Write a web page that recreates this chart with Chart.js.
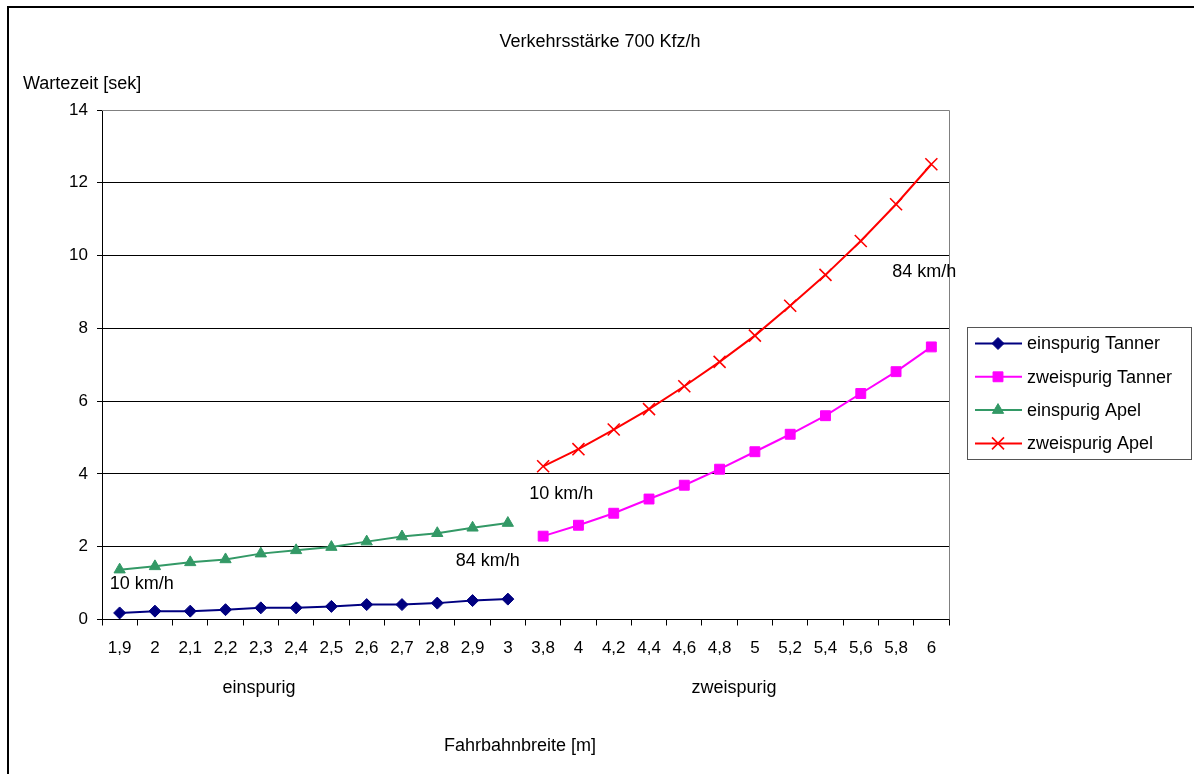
<!DOCTYPE html>
<html>
<head>
<meta charset="utf-8">
<script src="https://cdn.jsdelivr.net/npm/chart.js@4/dist/chart.umd.min.js"></script>
<style>
  html, body { margin: 0; padding: 0; background: #fff; }
  canvas { display: block; }
</style>
</head>
<body>
<canvas id="chart" width="1194" height="774"></canvas>
<script>
// Kategorien der x-Achse (Fahrbahnbreite in m)
const kategorien = ['1,9', '2', '2,1', '2,2', '2,3', '2,4', '2,5', '2,6', '2,7', '2,8', '2,9', '3',
                    '3,8', '4', '4,2', '4,4', '4,6', '4,8', '5', '5,2', '5,4', '5,6', '5,8', '6'];

// Wartezeiten in sek
const einspurigTanner = [0.18, 0.23, 0.23, 0.27, 0.32, 0.32, 0.36, 0.41, 0.41, 0.45, 0.52, 0.56];
const zweispurigTanner = [2.29, 2.59, 2.92, 3.31, 3.69, 4.13, 4.61, 5.09, 5.6, 6.21, 6.81, 7.49];
const einspurigApel = [1.37, 1.46, 1.57, 1.65, 1.81, 1.9, 1.99, 2.14, 2.28, 2.37, 2.52, 2.65];
const zweispurigApel = [4.21, 4.68, 5.22, 5.78, 6.41, 7.08, 7.8, 8.62, 9.47, 10.4, 11.41, 12.51];

const yTicks = [0, 2, 4, 6, 8, 10, 12, 14];

const FONT = '"Liberation Sans", Arial, sans-serif';
const leer = Array(12).fill(null);

const datasets = [
    {
        label: 'einspurig Tanner',
        data: einspurigTanner.concat(leer),
        borderColor: '#000080',
        backgroundColor: '#000080',
        pointStyle: 'rectRot',
        pointRadius: 6,
        pointBorderWidth: 1,
    },
    {
        label: 'zweispurig Tanner',
        data: leer.concat(zweispurigTanner),
        borderColor: '#ff00ff',
        backgroundColor: '#ff00ff',
        pointStyle: 'rect',
        pointRadius: 7,
        pointBorderWidth: 1,
    },
    {
        label: 'einspurig Apel',
        data: einspurigApel.concat(leer),
        borderColor: '#339966',
        backgroundColor: '#339966',
        pointStyle: 'triangle',
        pointRadius: 6.5,
        pointBorderWidth: 1,
    },
    {
        label: 'zweispurig Apel',
        data: leer.concat(zweispurigApel),
        borderColor: '#ff0000',
        backgroundColor: '#ff0000',
        pointStyle: 'crossRot',
        pointRadius: 8.5,
        pointBorderWidth: 1.6,
    },
];
datasets.forEach(d => {
    d.borderWidth = 2;
    d.tension = 0;
    d.fill = false;
    d.pointHoverRadius = d.pointRadius;
});

// Beschriftungen am Kurvenanfang / -ende (an Kategorie + Wert verankert)
const geschwLabels = [
    { text: '10 km/h', idx: 0, wert: 0.98, dx: -10, align: 'left' },
    { text: '84 km/h', idx: 11, wert: 1.61, dx: 12, align: 'right' },
    { text: '10 km/h', idx: 12, wert: 3.45, dx: -14, align: 'left' },
    { text: '84 km/h', idx: 23, wert: 9.56, dx: 25, align: 'right' },
];

const beschriftung = {
    id: 'beschriftung',
    beforeDatasetsDraw(chart) {
        const { ctx, chartArea: a } = chart;
        ctx.save();
        ctx.strokeStyle = '#808080';
        ctx.lineWidth = 1;
        ctx.beginPath();
        ctx.moveTo(a.left, a.top + 0.5);
        ctx.lineTo(a.right + 0.5, a.top + 0.5);
        ctx.lineTo(a.right + 0.5, a.bottom);
        ctx.stroke();
        ctx.restore();
    },
    afterDraw(chart) {
        const { ctx, chartArea: a, scales } = chart;
        ctx.save();
        // Rahmen
        ctx.strokeStyle = '#000';
        ctx.lineWidth = 2;
        ctx.strokeRect(8, 7, 1300, 900);

        ctx.fillStyle = '#000';
        ctx.textBaseline = 'alphabetic';
        ctx.font = '18px ' + FONT;
        ctx.textAlign = 'center';
        ctx.fillText('Verkehrsstärke 700 Kfz/h', 600, 47);
        ctx.textAlign = 'left';
        ctx.fillText('Wartezeit [sek]', 23, 89);
        ctx.textAlign = 'center';
        ctx.fillText('einspurig', 259, 693);
        ctx.fillText('zweispurig', 734, 693);
        ctx.fillText('Fahrbahnbreite [m]', 520, 751);

        // km/h Beschriftungen
        ctx.textBaseline = 'middle';
        geschwLabels.forEach(l => {
            const x = scales.x.getPixelForValue(l.idx) + l.dx;
            const y = scales.y.getPixelForValue(l.wert);
            ctx.textAlign = l.align;
            ctx.fillText(l.text, x, y);
        });

        // Legende
        const lx = a.right + 18, ly = 327, lw = 224, lh = 132;
        ctx.strokeStyle = '#555';
        ctx.lineWidth = 1;
        ctx.strokeRect(lx + 0.5, ly + 0.5, lw, lh);
        chart.data.datasets.forEach((d, i) => {
            const y = ly + 16.5 + i * 33.3;
            ctx.strokeStyle = d.borderColor;
            ctx.lineWidth = 2;
            ctx.beginPath();
            ctx.moveTo(lx + 8, y);
            ctx.lineTo(lx + 55, y);
            ctx.stroke();
            ctx.fillStyle = d.backgroundColor;
            ctx.lineWidth = d.pointBorderWidth;
            Chart.helpers.drawPoint(ctx, {
                pointStyle: d.pointStyle,
                radius: d.pointRadius,
                borderWidth: d.pointBorderWidth,
                rotation: 0,
            }, lx + 31, y);
            ctx.fillStyle = '#000';
            ctx.textAlign = 'left';
            ctx.textBaseline = 'middle';
            ctx.font = '18px ' + FONT;
            ctx.fillText(d.label, lx + 60, y + 1);
        });
        ctx.restore();
    }
};

const ctx = document.getElementById('chart').getContext('2d');
const myChart = new Chart(ctx, {
    type: 'line',
    data: { labels: kategorien, datasets: datasets },
    options: {
        responsive: false,
        animation: false,
        layout: { padding: { left: 0, top: 110, right: 245, bottom: 0 } },
        plugins: {
            legend: { display: false },
            tooltip: { enabled: false },
        },
        scales: {
            x: {
                type: 'category',
                offset: true,
                grid: {
                    offset: true,
                    drawOnChartArea: false,
                    tickLength: 6,
                    color: '#000',
                },
                border: { color: '#000', width: 1 },
                ticks: {
                    color: '#000',
                    font: { family: FONT, size: 17 },
                    padding: 13,
                    maxRotation: 0,
                    autoSkip: false,
                },
                afterFit: s => { s.height = 154.5; },
            },
            y: {
                min: 0,
                max: 14,
                afterBuildTicks: s => { s.ticks = yTicks.map(v => ({ value: v })); },
                grid: {
                    color: c => (c.tick && c.tick.value === 14 ? '#808080' : '#000'),
                    tickColor: '#000',
                    tickLength: 5,
                },
                border: { color: '#000', width: 1 },
                ticks: {
                    color: '#000',
                    font: { family: FONT, size: 17 },
                    padding: 9,
                },
                afterFit: s => { s.width = 102; },
            },
        },
    },
    plugins: [beschriftung],
});
</script>
</body>
</html>
